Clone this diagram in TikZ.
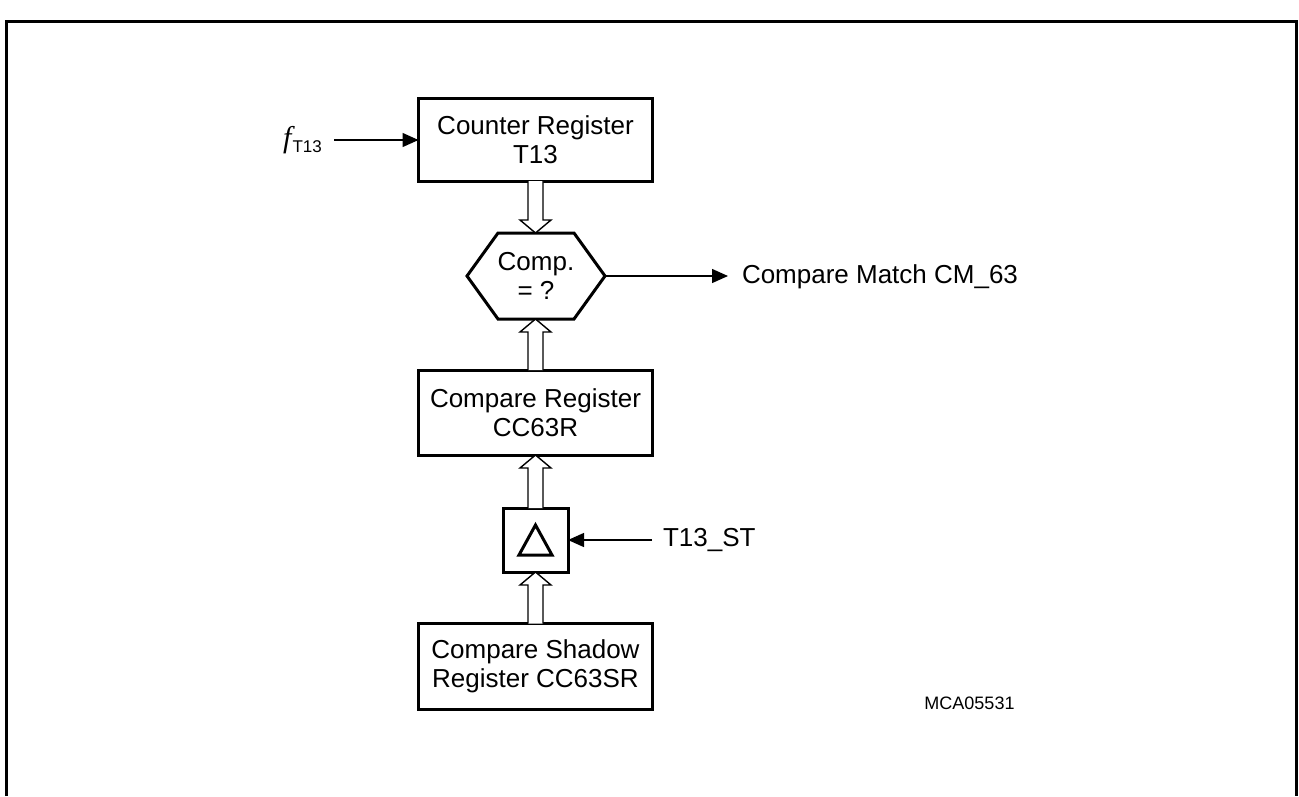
\documentclass[tikz,border=0pt]{standalone}
\usepackage{fontspec}
\setmainfont{Liberation Sans}
\newfontfamily\tnr{Liberation Serif}
\usetikzlibrary{arrows.meta,calc}
\tikzset{
  reg/.style={draw,line width=3pt,minimum width=234pt,inner sep=0pt,outer sep=0pt,align=center,font=\fontsize{26}{29}\selectfont},
  lbl/.style={inner sep=0pt,outer sep=0pt,font=\fontsize{26}{29}\selectfont},
  sig/.style={line width=1.4pt,-{Triangle[length=16pt,width=14pt]}},
  hollow/.style={line width=1.4pt,line join=miter,fill=white},
  heavy/.style={line width=3pt,line join=miter},
}
\newcommand\hollowdown[2]{\draw[hollow] let \p1=(#1), \p2=(#2) in
  (\x1-7.5pt,\y1) -- (\x1-7.5pt,\y2+13pt) -- (\x1-15.5pt,\y2+13pt) -- (\x1,\y2)
  -- (\x1+15.5pt,\y2+13pt) -- (\x1+7.5pt,\y2+13pt) -- (\x1+7.5pt,\y1);}
\newcommand\hollowup[2]{\draw[hollow] let \p1=(#1), \p2=(#2) in
  (\x1-7.5pt,\y1) -- (\x1-7.5pt,\y2-13pt) -- (\x1-15.5pt,\y2-13pt) -- (\x1,\y2)
  -- (\x1+15.5pt,\y2-13pt) -- (\x1+7.5pt,\y2-13pt) -- (\x1+7.5pt,\y1);}
\begin{document}
\begin{tikzpicture}[x=1pt,y=-1pt]
\useasboundingbox (0,0) rectangle (1299,796);
% frame (open at the bottom)
\draw[heavy] (6,796) -- (6,21) -- (1296,21) -- (1296,796);

% nodes
\node[reg,minimum height=83pt] (cnt) at (535.5,139.5) {Counter Register\\T13};
\node[lbl,minimum width=138pt,minimum height=86pt,align=center] (hex) at (536,276) {Comp.\\= ?};
\draw[heavy] (hex.west) -- ($(hex.north west)+(31,0)$) -- ($(hex.north east)+(-31,0)$)
  -- (hex.east) -- ($(hex.south east)+(-31,0)$) -- ($(hex.south west)+(31,0)$) -- cycle;
\node[reg,minimum height=85pt] (cmp) at (535.5,412.5) {Compare Register\\CC63R};
\node[draw,line width=3pt,minimum width=65pt,minimum height=64pt,inner sep=0pt,outer sep=0pt] (dl) at (535.5,540) {};
\draw[heavy] ($(dl.center)+(0,-15)$) -- ($(dl.center)+(16.5,15)$) -- ($(dl.center)+(-16.5,15)$) -- cycle;
\node[reg,minimum height=86pt] (sh) at (535.5,666.5) {Compare Shadow\\Register CC63SR};

\node[anchor=base west,inner sep=0pt] (ft) at (283,147)
  {{\tnr\itshape\fontsize{30}{30}\selectfont f}\kern1pt{\fontsize{17}{17}\selectfont\raisebox{-5pt}{T13}}};
\node[lbl,anchor=west] (cm) at (742,277) {Compare Match CM\_63};
\node[lbl,anchor=west] (st) at (663,540) {T13\_ST};
\node[inner sep=0pt,font=\fontsize{18}{18}\selectfont] (id) at (969.5,703) {MCA05531};

% connectors
\coordinate (fin) at (334,140);
\draw[sig] (fin) -- (fin -| cnt.west);
\draw[sig,shorten >=14pt] (hex.east) -- (hex.east -| cm.west);
\draw[sig,shorten <=11pt] (dl.east -| st.west) -- (dl.east);

\hollowdown{cnt.south}{hex.north}
\hollowup{cmp.north}{hex.south}
\hollowup{dl.north}{cmp.south}
\hollowup{sh.north}{dl.south}
\end{tikzpicture}
\end{document}
